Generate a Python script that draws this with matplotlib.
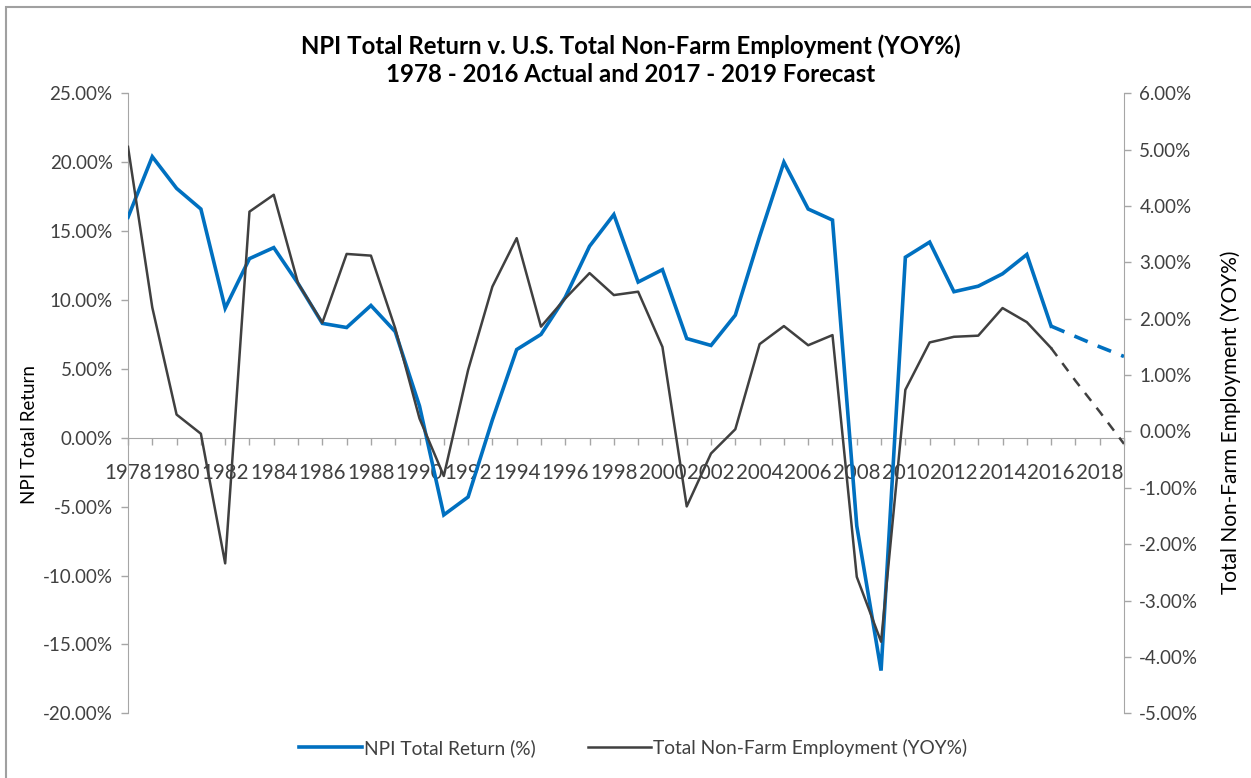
import matplotlib
matplotlib.use("Agg")
import matplotlib.pyplot as plt
from matplotlib.patches import Rectangle
from matplotlib.ticker import FuncFormatter, MultipleLocator
from matplotlib.lines import Line2D

plt.rcParams['font.family'] = ['Lato', 'DejaVu Sans']

years = list(range(1978, 2020))
actual_years = list(range(1978, 2017))
forecast_years = [2016, 2017, 2018, 2019]

npi_actual = [16.0, 20.4, 18.1, 16.6, 9.4, 13.0, 13.8, 11.2, 8.3, 8.0,
              9.6, 7.7, 2.3, -5.6, -4.3, 1.3, 6.4, 7.5, 10.2, 13.9,
              16.2, 11.3, 12.2, 7.2, 6.7, 8.9, 14.6, 20.0, 16.6, 15.8,
              -6.4, -16.9, 13.1, 14.2, 10.6, 11.0, 11.9, 13.3, 8.1]
npi_forecast = [8.1, 7.35, 6.6, 5.9]

emp_actual = [5.05, 2.2, 0.3, -0.04, -2.34, 3.9, 4.2, 2.63, 1.93, 3.15,
              3.12, 1.83, 0.23, -0.79, 1.09, 2.57, 3.43, 1.86, 2.36, 2.81,
              2.42, 2.48, 1.5, -1.33, -0.39, 0.04, 1.55, 1.87, 1.53, 1.71,
              -2.58, -3.73, 0.74, 1.58, 1.68, 1.7, 2.19, 1.94, 1.48]
emp_forecast = [1.48, 0.9, 0.35, -0.22]

title = "NPI Total Return v. U.S. Total Non-Farm Employment (YOY%)\n1978 - 2016 Actual and 2017 - 2019 Forecast"
left_label = "NPI Total Return"
right_label = "Total Non-Farm Employment (YOY%)"
npi_name = "NPI Total Return (%)"
emp_name = "Total Non-Farm Employment (YOY%)"

BLUE = "#0070C0"
DARK = "#404040"
AXC = "#A6A6A6"
TXT = "#404040"

W, H = 1251, 778
fig = plt.figure(figsize=(W / 100, H / 100), dpi=100)
fig.patches.append(Rectangle((6 / W, -0.1), 1.2, 1 - 7 / H + 0.1, transform=fig.transFigure,
                             fill=False, edgecolor="#A0A0A0", linewidth=1.5))

ax = fig.add_axes([128 / W, 1 - 713.3 / H, (1124 - 128) / W, (713.3 - 93.3) / H])
ax2 = ax.twinx()

ax.plot(actual_years, npi_actual, color=BLUE, lw=2.6, solid_joinstyle='miter', zorder=3)
ax.plot(forecast_years, npi_forecast, color=BLUE, lw=2.6, ls=(0, (4, 3)), zorder=3)
ax2.plot(actual_years, emp_actual, color=DARK, lw=1.8, zorder=2)
ax2.plot(forecast_years, emp_forecast, color=DARK, lw=1.8, ls=(0, (4, 3.5)), zorder=2)

ax.set_xlim(1978, 2019)
ax.set_ylim(-20, 25)
ax2.set_ylim(-5, 6)
ax.yaxis.set_major_locator(MultipleLocator(5))
ax2.yaxis.set_major_locator(MultipleLocator(1))
ax.yaxis.set_major_formatter(FuncFormatter(lambda v, p: f"{v:.2f}%"))
ax2.yaxis.set_major_formatter(FuncFormatter(lambda v, p: f"{v:.2f}%"))

ax.set_xticks(years)
ax.set_xticklabels([str(y) if (y - 1978) % 2 == 0 else "" for y in years])

for a in (ax, ax2):
    for s in a.spines.values():
        s.set_visible(False)
ax.spines['left'].set_visible(True)
ax.spines['left'].set_color(AXC)
ax.spines['bottom'].set_visible(True)
ax.spines['bottom'].set_position(('data', 0))
ax.spines['bottom'].set_color(AXC)
ax2.spines['right'].set_visible(True)
ax2.spines['right'].set_color(AXC)

ax.tick_params(axis='y', colors=AXC, labelcolor=TXT, labelsize=13.5, length=5, width=1, pad=6)
ax2.tick_params(axis='y', colors=AXC, labelcolor=TXT, labelsize=13.5, length=5, width=1, pad=6)
ax.tick_params(axis='x', colors=AXC, labelcolor=TXT, labelsize=14.8, length=5, width=1, pad=13,
               direction='out')

ax.set_ylabel(left_label, fontsize=13.5, color="#000000")
ax.yaxis.set_label_coords(-0.09, 0.45)
ax2.set_ylabel(right_label, fontsize=15, color="#000000")
ax2.yaxis.set_label_coords(1.097, 0.47)

fig.text(631 / W, 1 - 60 / H, title, ha='center', va='center', fontsize=17.3, fontweight='bold',
         linespacing=1.25)

handles = [Line2D([], [], color=BLUE, lw=2.6), Line2D([], [], color=DARK, lw=1.8)]
fig.legend(handles, [npi_name, emp_name], loc='center', bbox_to_anchor=(633 / W, 1 - 748 / H),
           ncol=2, frameon=False, fontsize=13.8, handlelength=3.3, handletextpad=0.1,
           columnspacing=2.7, labelcolor=TXT)

fig.savefig("out.png", dpi=100)
